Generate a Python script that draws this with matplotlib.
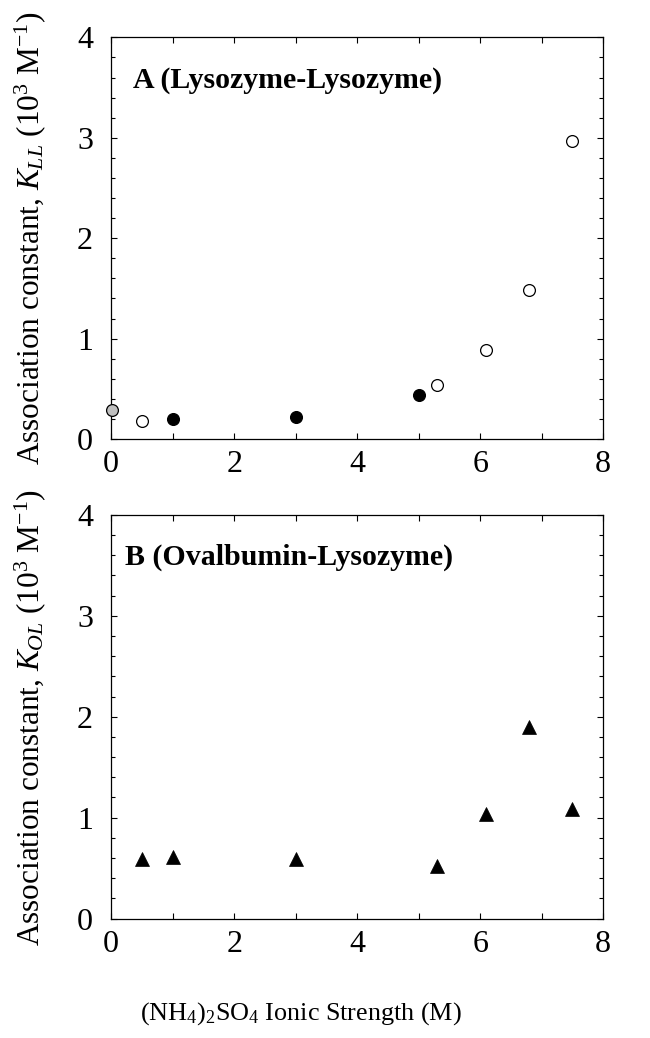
import matplotlib

matplotlib.use("Agg")
import matplotlib.pyplot as plt
from matplotlib.ticker import MultipleLocator

plt.rcParams["font.family"] = "Liberation Serif"
plt.rcParams["mathtext.fontset"] = "custom"
plt.rcParams["mathtext.rm"] = "Liberation Serif"
plt.rcParams["mathtext.it"] = "Liberation Serif:italic"
plt.rcParams["mathtext.bf"] = "Liberation Serif:bold"

# panel A: lysozyme-lysozyme association constants (10^3 M^-1)
ionic_gray = [0.02]
kll_gray = [0.29]
ionic_open = [0.5, 5.3, 6.1, 6.8, 7.5]
kll_open = [0.18, 0.54, 0.89, 1.48, 2.97]
ionic_filled = [1.0, 3.0, 5.0]
kll_filled = [0.20, 0.22, 0.44]

# panel B: ovalbumin-lysozyme
ionic_b = [0.5, 1.0, 3.0, 5.3, 6.1, 6.8, 7.5]
kol = [0.59, 0.61, 0.59, 0.52, 1.04, 1.90, 1.09]

fig = plt.figure(figsize=(6.5, 10.38), dpi=100)
ax_a = fig.add_axes([0.171, 0.577, 0.757, 0.387])
ax_b = fig.add_axes([0.171, 0.115, 0.757, 0.389])


def style_axis(ax):
    ax.set_xlim(0, 8)
    ax.set_ylim(0, 4)
    ax.xaxis.set_major_locator(MultipleLocator(2))
    ax.xaxis.set_minor_locator(MultipleLocator(1))
    ax.yaxis.set_major_locator(MultipleLocator(1))
    ax.yaxis.set_minor_locator(MultipleLocator(0.2))
    ax.tick_params(which="both", direction="in", top=True, right=True,
                   width=0.8, labelsize=23)
    ax.tick_params(axis="y", which="major", length=4.5, pad=13)
    ax.tick_params(axis="y", which="minor", length=2.8)
    ax.tick_params(axis="x", which="both", length=4.0, pad=8)
    for s in ax.spines.values():
        s.set_linewidth(0.9)


style_axis(ax_a)
style_axis(ax_b)

ms = 8.5
ax_a.plot(ionic_gray, kll_gray, "o", ms=ms, mfc="#c0c0c0", mec="black",
          mew=0.9, clip_on=False, zorder=5)
ax_a.plot(ionic_open, kll_open, "o", ms=ms, mfc="white", mec="black",
          mew=0.9, zorder=5)
ax_a.plot(ionic_filled, kll_filled, "o", ms=ms, mfc="black", mec="black",
          mew=0.9, zorder=5)
ax_b.plot(ionic_b, kol, "^", ms=9.5, mfc="black", mec="black", mew=0.5,
          zorder=5)

ax_a.text(0.045, 0.893, "A (Lysozyme-Lysozyme)", transform=ax_a.transAxes,
          fontsize=21.5, fontweight="bold", va="center", ha="left")
ax_b.text(0.028, 0.896, "B (Ovalbumin-Lysozyme)", transform=ax_b.transAxes,
          fontsize=21.5, fontweight="bold", va="center", ha="left")

fig.text(30 / 650, 1 - 238 / 1038,
         r"Association constant, $K_{LL}$ (10$^3$ M$^{\mathregular{-1}}$)",
         rotation=90, ha="center", va="center", fontsize=22.5)
fig.text(30 / 650, 1 - 717 / 1038,
         r"Association constant, $K_{OL}$ (10$^3$ M$^{\mathregular{-1}}$)",
         rotation=90, ha="center", va="center", fontsize=22.5)
fig.text(301 / 650, 1 - 1014 / 1038,
         r"(NH$_4$)$_2$SO$_4$ Ionic Strength (M)",
         ha="center", va="center", fontsize=18.8)

fig.savefig("out.png", dpi=100)
